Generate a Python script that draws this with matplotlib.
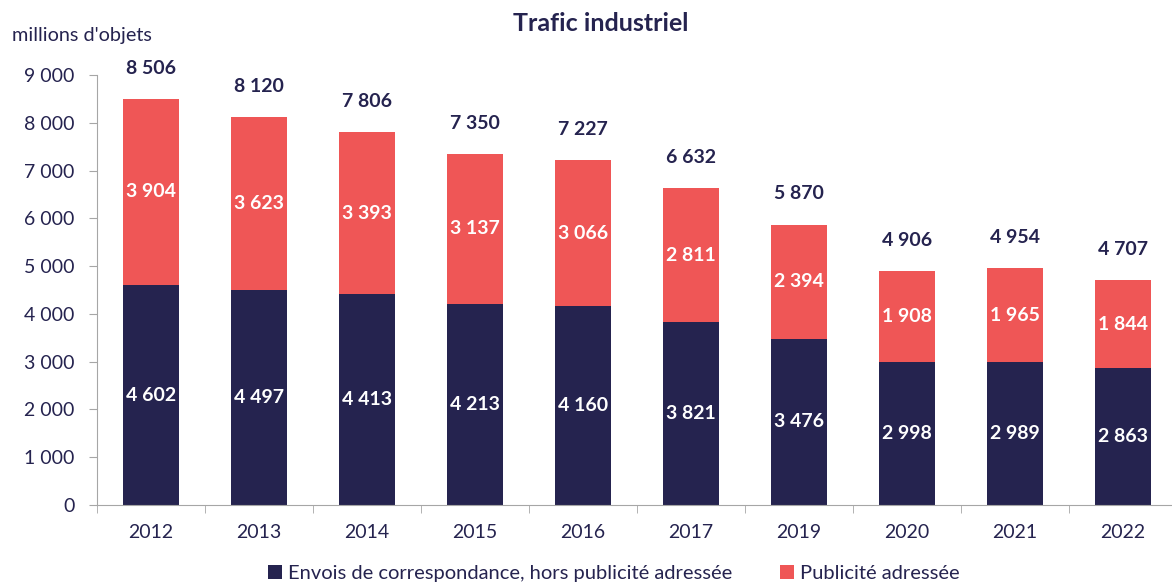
import numpy as np
import matplotlib
matplotlib.use('Agg')
import matplotlib.pyplot as plt
from matplotlib.ticker import FuncFormatter

years = ['2012', '2013', '2014', '2015', '2016', '2017', '2019', '2020', '2021', '2022']
envois = [4602, 4497, 4413, 4213, 4160, 3821, 3476, 2998, 2989, 2863]
pub = [3904, 3623, 3393, 3137, 3066, 2811, 2394, 1908, 1965, 1844]
totals = [8506, 8120, 7806, 7350, 7227, 6632, 5870, 4906, 4954, 4707]

navy = '#25234f'
red = '#ef5656'
plt.rcParams['font.family'] = ['Lato', 'DejaVu Sans']

def fmt(v):
    return '{:,}'.format(int(v)).replace(',', ' ')

fig = plt.figure(figsize=(11.72, 5.85), dpi=100)
ax = fig.add_axes([97/1172, 80/585, 1080/1172, 430/585])
x = np.arange(len(years))
w = 0.515
ax.bar(x, envois, w, color=navy, label='Envois de correspondance, hors publicité adressée')
ax.bar(x, pub, w, bottom=envois, color=red, label='Publicité adressée')

for i in range(len(years)):
    ax.text(x[i], envois[i]/2, fmt(envois[i]), ha='center', va='center',
            color='white', fontsize=14, fontweight='bold')
    ax.text(x[i], envois[i] + pub[i]/2, fmt(pub[i]), ha='center', va='center',
            color='white', fontsize=14, fontweight='bold')
    ax.annotate(fmt(totals[i]), (x[i], totals[i]), xytext=(0, 22), textcoords='offset points',
                ha='center', va='center', color=navy, fontsize=14, fontweight='bold')

ax.set_xlim(-0.5, len(years) - 0.5)
ax.set_ylim(0, 9000)
ax.set_yticks(range(0, 9001, 1000))
ax.yaxis.set_major_formatter(FuncFormatter(lambda v, p: fmt(v)))
ax.set_xticks(x)
ax.set_xticklabels(years)
ax.set_xticks(np.arange(-0.5, len(years), 1), minor=True)
ax.tick_params(axis='x', which='major', length=0, pad=14, labelsize=14, labelcolor=navy)
ax.tick_params(axis='x', which='minor', length=6, color='#a6a6a6')
ax.tick_params(axis='y', length=6, color='#a6a6a6', pad=10, labelsize=14, labelcolor=navy)
for s in ['top', 'right']:
    ax.spines[s].set_visible(False)
ax.spines['left'].set_color('#a6a6a6')
ax.spines['bottom'].set_color('#a6a6a6')

fig.text(601/1172, 0.96, 'Trafic industriel', ha='center', va='center', fontsize=18,
         fontweight='bold', color=navy)
fig.text(0.01, 0.94, "millions d'objets", ha='left', va='center', fontsize=14.3, color=navy)

fig.legend(loc='center', bbox_to_anchor=(0.5235, 0.02), ncol=2, frameon=False,
           fontsize=14.5, labelcolor=navy, handlelength=0.7, handleheight=0.7,
           handletextpad=0.3, columnspacing=2.35)

fig.savefig('out.png', dpi=100)
